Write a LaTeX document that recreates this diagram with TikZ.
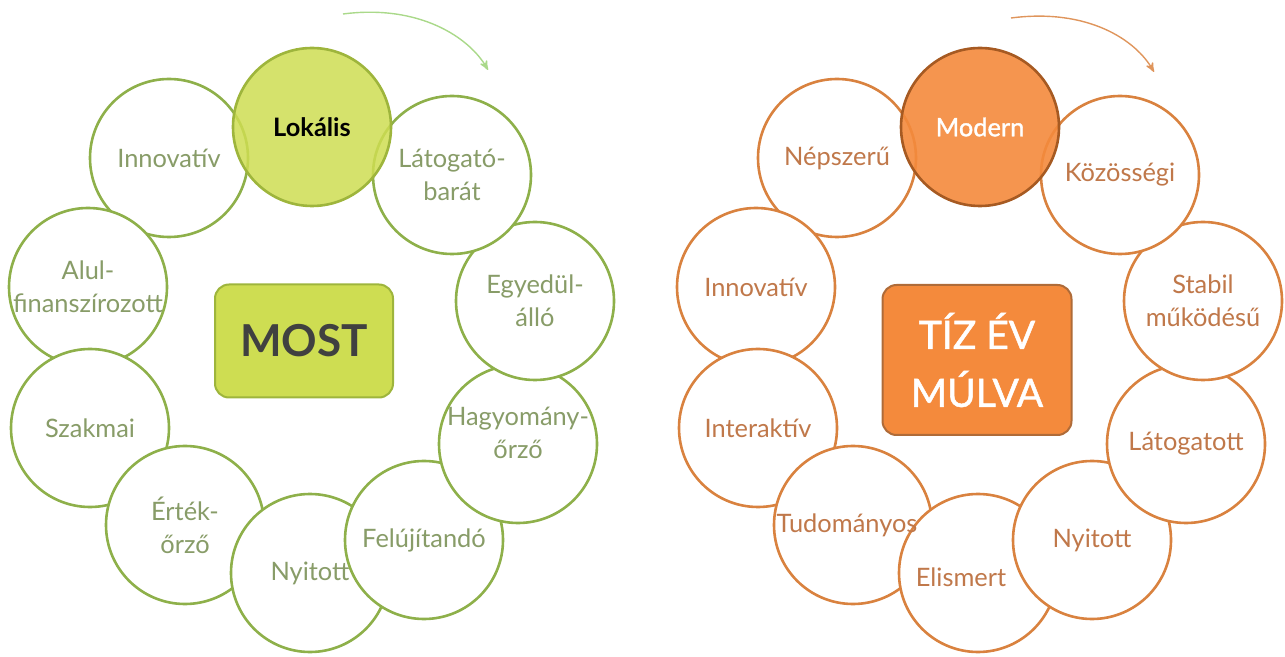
\documentclass[tikz,border=0pt]{standalone}
\usepackage{fontspec}
\setmainfont{Lato}
\newfontfamily\latomed[FakeBold=1.3]{Lato}
\usetikzlibrary{arrows}
\definecolor{grnline}{RGB}{142,176,74}
\definecolor{grntext}{RGB}{136,156,104}
\definecolor{grnfill}{RGB}{206,221,82}
\definecolor{grndark}{RGB}{158,181,60}
\definecolor{orgline}{RGB}{217,130,63}
\definecolor{orgtext}{RGB}{192,120,74}
\definecolor{orgfill}{RGB}{244,138,60}
\definecolor{orgdark}{RGB}{166,90,34}
\tikzset{
  bub/.style = {circle, fill=white, line width=1.3pt, minimum size=79pt, inner sep=0pt},
  gbub/.style = {bub, draw=grnline},
  obub/.style = {bub, draw=orgline},
  gtop/.style = {bub, draw=grndark, fill=grnfill, fill opacity=0.85},% highlighted
  otop/.style = {bub, draw=orgdark, fill=orgfill, fill opacity=0.9},
  txt/.style = {align=center, inner sep=0pt, font=\fontsize{12.7}{16.5}\selectfont},
  gtxt/.style = {txt, text=grntext},
  otxt/.style = {txt, text=orgtext},
  mainbox/.style = {rectangle, rounded corners=7pt, line width=1pt,
    align=center, inner sep=0pt}
}

\begin{document}
\begin{tikzpicture}[x=0.5pt,y=-0.5pt,>=stealth']
\useasboundingbox (0,0) rectangle (1285,657);
% MOST
\node [gbub] (g10) at (169,158) {};
\node [gbub] (g9) at (88,287) {};
\node [gbub] (g8) at (90,428) {};
\node [gbub] (g7) at (185,525) {};
\node [gbub] (g6) at (310,573) {};
\node [gbub] (g5) at (424,540) {};
\node [gbub] (g4) at (518,444) {};
\node [gbub] (g3) at (535,301) {};
\node [gbub] (g2) at (452,175) {};
\node [gtop] (g1) at (312,127) {};
\node [txt, font=\fontsize{12.7}{16.5}\selectfont\bfseries] (g1t) at (g1) {Lokális};
\node [gtxt] (g2t) at (g2) {Látogató-\\barát};
\node [gtxt] (g3t) at (g3) {Egyedül-\\álló};
\node [gtxt, yshift=5.5pt] (g4t) at (g4) {Hagyomány-\\őrző};
\node [gtxt] (g5t) at (g5) {Felújítandó};
\node [gtxt] (g6t) at (g6) {Nyitott};
\node [gtxt] (g7t) at (g7) {Érték-\\őrző};
\node [gtxt] (g8t) at (g8) {Szakmai};
\node [gtxt] (g9t) at (g9) {Alul-\\finanszírozott};
\node [gtxt] (g10t) at (g10) {Innovatív};
\node [mainbox, draw=grndark, fill=grnfill, minimum width=89pt, minimum height=56.5pt,
  text={black!75}, font=\fontsize{22}{26}\selectfont\bfseries] (gbox) at (304,341) {MOST};
\coordinate (ga1) at (343,14);
\coordinate (ga2) at (488,70);
\draw [->, draw={grnline!80!green!60!white}, line width=0.7pt] (ga1) .. controls (420,4) and (470,38) .. (ga2);
% TIZ EV MULVA
\begin{scope}[xshift=334pt]
\node [obub] (o10) at (169,158) {};
\node [obub] (o9) at (88,287) {};
\node [obub] (o8) at (90,428) {};
\node [obub] (o7) at (185,525) {};
\node [obub] (o6) at (310,573) {};
\node [obub] (o5) at (424,540) {};
\node [obub] (o4) at (518,444) {};
\node [obub] (o3) at (535,301) {};
\node [obub] (o2) at (452,175) {};
\node [otop] (o1) at (312,127) {};
\node [txt, text=white, font=\fontsize{12.7}{16.5}\selectfont\latomed] (o1t) at (o1) {Modern};
\node [otxt] (o2t) at (o2) {Közösségi};
\node [otxt] (o3t) at (o3) {Stabil\\működésű};
\node [otxt] (o4t) at (o4) {Látogatott};
\node [otxt] (o5t) at (o5) {Nyitott};
\node [otxt, xshift=-8.5pt, yshift=-2pt] (o6t) at (o6) {Elismert};
\node [otxt, xshift=-3pt] (o7t) at (o7) {Tudományos};
\node [otxt] (o8t) at (o8) {Interaktív};
\node [otxt] (o9t) at (o9) {Innovatív};
\node [otxt] (o10t) at (o10) {Népszerű};
\node [mainbox, draw=orgdark!90, fill=orgfill, minimum width=94.5pt, minimum height=75pt,
  text=white, font=\fontsize{19.5}{29}\selectfont\latomed] (obox) at (309,360) {TÍZ ÉV\\MÚLVA};
\coordinate (oa1) at (343,18);
\coordinate (oa2) at (486,72);
\draw [->, draw={orgline!85!white}, line width=0.7pt] (oa1) .. controls (420,8) and (468,40) .. (oa2);
\end{scope}
\end{tikzpicture}
\end{document}
